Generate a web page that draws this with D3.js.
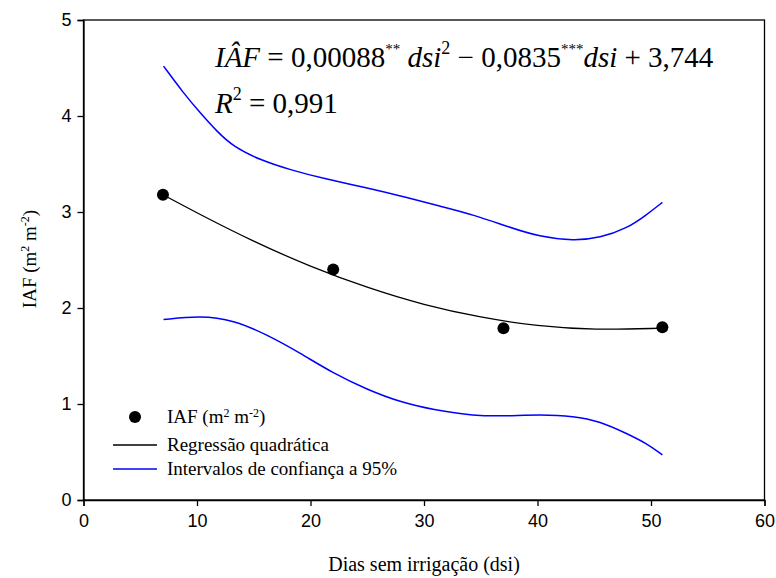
<!DOCTYPE html>
<html><head><meta charset="utf-8">
<script src="https://cdn.jsdelivr.net/npm/d3@7"></script>
<style>body{margin:0;background:#fff}svg{display:block}.serif{font-family:"Liberation Serif","Times New Roman",serif}.sans{font-family:"Liberation Sans",Arial,sans-serif}</style>
</head><body>
<svg id="c" width="776" height="578"></svg>
<script>
// observed points
const obsX = [7, 22, 37, 51];
const obsY = [3.18, 2.40, 1.79, 1.80];
// regression curve
const regX = [7, 10, 15, 20, 25, 30, 35, 40, 45, 51];
const regY = [3.18, 2.99, 2.69, 2.43, 2.21, 2.03, 1.90, 1.81, 1.77, 1.79];
// upper 95% CI
const upX = [7.05, 8.8, 10.3, 11.75, 13.2, 15.6, 18.2, 21.1, 25.0, 28.2, 31.4, 34.4, 37.3, 40.2, 43.2, 45.5, 47.9, 49.6, 51.0];
const upY = [4.52, 4.24, 4.03, 3.84, 3.68, 3.54, 3.44, 3.35, 3.25, 3.16, 3.06, 2.97, 2.85, 2.74, 2.70, 2.73, 2.83, 2.97, 3.10];
// lower 95% CI
const loX = [7.05, 10.3, 13.2, 16.2, 19.1, 22.0, 25.0, 27.9, 30.8, 34.4, 37.3, 40.2, 43.2, 45.5, 47.9, 49.6, 51.0];
const loY = [1.88, 1.92, 1.875, 1.72, 1.53, 1.32, 1.15, 1.02, 0.94, 0.875, 0.875, 0.89, 0.875, 0.82, 0.69, 0.59, 0.47];
const xTicks = [0, 10, 20, 30, 40, 50, 60];
const yTicks = [0, 1, 2, 3, 4, 5];
const legendLabels = ["Regressão quadrática", "Intervalos de confiança a 95%"];

const svg = d3.select("#c");
const L = 83.5, R = 764.5, T = 20, B = 500;
const x = d3.scaleLinear().domain([0, 60]).range([L, R]);
const y = d3.scaleLinear().domain([0, 5]).range([B, T]);

// frame
svg.append("rect").attr("x", L).attr("y", T).attr("width", R - L).attr("height", B - T)
  .attr("fill", "none").attr("stroke", "#000").attr("stroke-width", 1.3);

const xa = svg.append("g").attr("transform", `translate(0,${B})`)
  .call(d3.axisBottom(x).tickValues(xTicks).tickSize(6).tickPadding(8).tickFormat(d3.format("d")));
const ya = svg.append("g").attr("transform", `translate(${L},0)`)
  .call(d3.axisLeft(y).tickValues(yTicks).tickSize(6).tickPadding(6).tickFormat(d3.format("d")));
[xa, ya].forEach(a => {
  a.attr("font-family", null).attr("font-size", null);
  a.select(".domain").attr("stroke-width", 1.3);
  a.selectAll(".tick line").attr("stroke-width", 1.3);
  a.selectAll("text").attr("class", "sans").style("font-size", "18px").attr("fill", "#000");
});

const line = (xs, ys) => d3.line().x((d, i) => x(xs[i])).y((d, i) => y(ys[i])).curve(d3.curveBasis)(xs);

svg.append("path").attr("d", line(upX, upY)).attr("fill", "none").attr("stroke", "#0000ff").attr("stroke-width", 1.5);
svg.append("path").attr("d", line(loX, loY)).attr("fill", "none").attr("stroke", "#0000ff").attr("stroke-width", 1.5);
svg.append("path").attr("d", line(regX, regY)).attr("fill", "none").attr("stroke", "#000").attr("stroke-width", 1.3);

svg.selectAll("circle.pt").data(obsX).enter().append("circle")
  .attr("cx", (d) => x(d)).attr("cy", (d, i) => y(obsY[i])).attr("r", 6).attr("fill", "#000");

// axis titles
svg.append("text").attr("class", "serif").attr("x", 424).attr("y", 571).attr("text-anchor", "middle")
  .style("font-size", "20px").text("Dias sem irrigação (dsi)");
const yt = svg.append("text").attr("class", "serif").attr("transform", "translate(36,259) rotate(-90)").attr("text-anchor", "middle")
  .style("font-size", "19px");
yt.append("tspan").text("IAF (m");
yt.append("tspan").attr("dy", -7).style("font-size", "12px").text("2");
yt.append("tspan").attr("dy", 7).text(" m");
yt.append("tspan").attr("dy", -7).style("font-size", "12px").text("-2");
yt.append("tspan").attr("dy", 7).text(")");

// equation
const eq = svg.append("text").attr("class", "serif").attr("x", 215).attr("y", 67).style("font-size", "29px");
eq.append("tspan").style("font-style", "italic").text("IÂF");
eq.append("tspan").text(" = 0,00088");
eq.append("tspan").attr("dy", -13).style("font-size", "15px").text("**");
eq.append("tspan").attr("dy", 13).style("font-style", "italic").text("  dsi");
eq.append("tspan").attr("dy", -13).style("font-size", "18px").text("2");
eq.append("tspan").attr("dy", 13).text(" − 0,0835");
eq.append("tspan").attr("dy", -13).style("font-size", "15px").text("***");
eq.append("tspan").attr("dy", 13).style("font-style", "italic").text("dsi");
eq.append("tspan").text(" + 3,744");

const r2 = svg.append("text").attr("class", "serif").attr("x", 215).attr("y", 113).style("font-size", "29px");
r2.append("tspan").style("font-style", "italic").text("R");
r2.append("tspan").attr("dy", -13).style("font-size", "18px").text("2");
r2.append("tspan").attr("dy", 13).text(" = 0,991");

// legend
const lg = svg.append("g");
lg.append("circle").attr("cx", 135).attr("cy", 417).attr("r", 6).attr("fill", "#000");
const t1 = lg.append("text").attr("class", "serif").attr("x", 167).attr("y", 423).style("font-size", "19px");
t1.append("tspan").text("IAF (m");
t1.append("tspan").attr("dy", -6).style("font-size", "12px").text("2");
t1.append("tspan").attr("dy", 6).text(" m");
t1.append("tspan").attr("dy", -6).style("font-size", "12px").text("-2");
t1.append("tspan").attr("dy", 6).text(")");
const legColors = ["#000", "#0000ff"];
legendLabels.forEach((lab, i) => {
  const yy = 445 + i * 24;
  lg.append("line").attr("x1", 113).attr("x2", 157).attr("y1", yy).attr("y2", yy)
    .attr("stroke", legColors[i]).attr("stroke-width", 1.3);
  lg.append("text").attr("class", "serif").attr("x", 167).attr("y", yy + 6).style("font-size", "19px").text(lab);
});
</script>
</body></html>
